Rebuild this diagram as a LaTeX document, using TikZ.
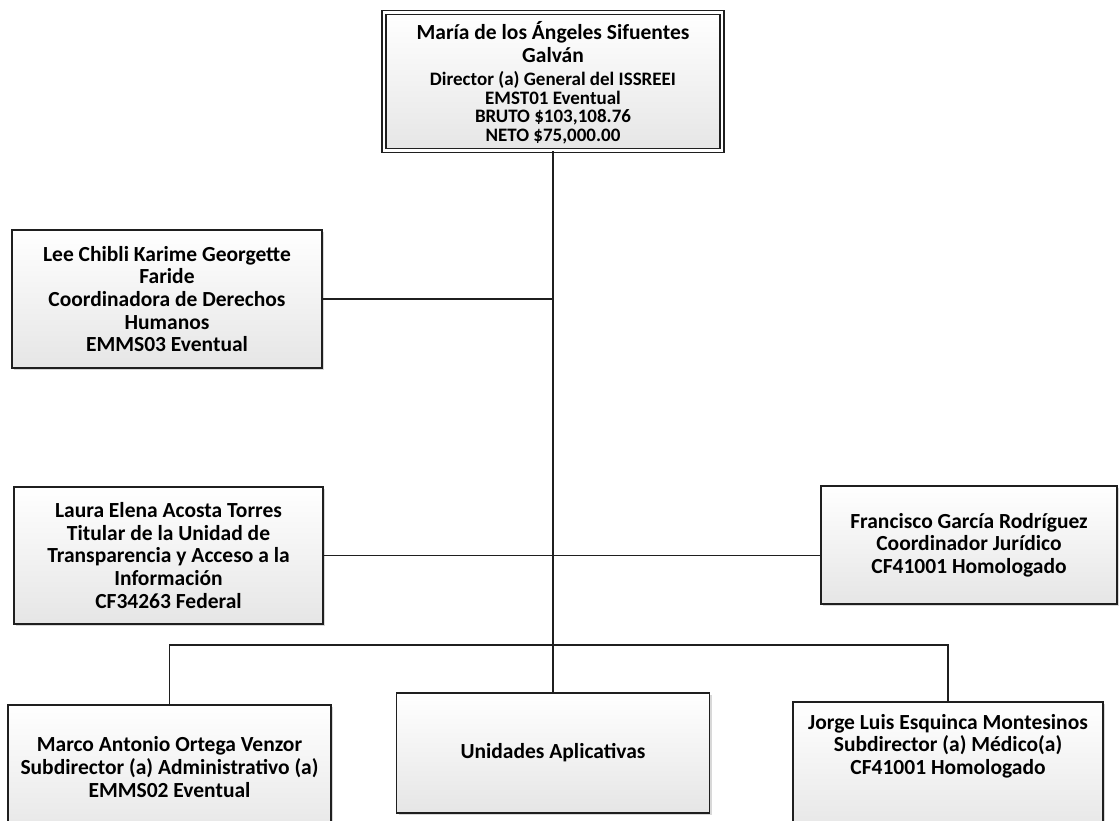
\documentclass[tikz,border=0pt]{standalone}
\usepackage{fontspec}
\setmainfont{Carlito}
\usetikzlibrary{shadows}
\newcommand{\bigtxt}{\fontsize{21.5}{22.7}\selectfont}
\newcommand{\smalltxt}{\fontsize{19}{18.8}\selectfont}
\begin{document}
\begin{tikzpicture}[x=1pt,y=-1pt,
  box/.style={draw=black!88, line width=1.9pt, rectangle, align=center,
    top color=white, bottom color=black!10, inner sep=2pt,
    drop shadow={shadow xshift=2pt, shadow yshift=-2pt, fill=black!30, opacity=0.5},
    font=\bfseries\bigtxt},
  topbox/.style={box, double=white, double distance=2.6pt, line width=1.3pt},
  txt/.style={align=center, inner sep=0pt, font=\bfseries\bigtxt},
  conn/.style={draw=black!88, line width=1.9pt}]
\useasboundingbox (0,0) rectangle (1120,821);
\clip (0,0) rectangle (1120,821);
\fill[white] (0,0) rectangle (1120,821);

\node[topbox, minimum width=338, minimum height=138] (top) at (553,81.5) {};
\node[txt, font=\bfseries\smalltxt] (topt) at (553,83)
  {\bigtxt María de los Ángeles Sifuentes\\[4pt]\bigtxt Galván\\[4pt]
   Director (a) General del ISSREEI\\EMST01 Eventual\\BRUTO \$103,108.76\\NETO \$75,000.00};

\node[box, minimum width=310, minimum height=138] (lee) at (167,299)
  {Lee Chibli Karime Georgette\\Faride\\Coordinadora de Derechos\\Humanos\\EMMS03 Eventual};

\node[box, minimum width=309, minimum height=137] (laura) at (168.5,555.5)
  {Laura Elena Acosta Torres\\Titular de la Unidad de\\Transparencia y Acceso a la\\Información\\CF34263 Federal};

\node[box, minimum width=296, minimum height=118] (fran) at (969,545)
  {Francisco García Rodríguez\\Coordinador Jurídico\\CF41001 Homologado};

\node[box, minimum width=323, minimum height=135] (marco) at (169.5,772.5) {};
\node[txt] (marcot) at (169.5,767)
  {Marco Antonio Ortega Venzor\\Subdirector (a) Administrativo (a)\\EMMS02 Eventual};

\node[box, minimum width=313, minimum height=120] (unid) at (553,753)
  {Unidades Aplicativas};

\node[box, minimum width=310, minimum height=135] (jorge) at (948,769.5) {};
\node[txt] (jorget) at (948,746)
  {Jorge Luis Esquinca Montesinos\\Subdirector (a) Médico(a)\\CF41001 Homologado};

\coordinate (j1) at (top.south |- 0,645);
\coordinate (jlee) at (top.south |- lee.east);
\draw[conn] (top.south) -- (j1);
\draw[conn] (lee.east) -- (jlee);
\draw[conn] (laura.east) -- (laura.east -| fran.west);
\draw[conn] (marco.north) -- (marco.north |- j1) -- (jorge.north |- j1) -- (jorge.north);
\draw[conn] (j1) -- (unid.north);
\end{tikzpicture}
\end{document}
